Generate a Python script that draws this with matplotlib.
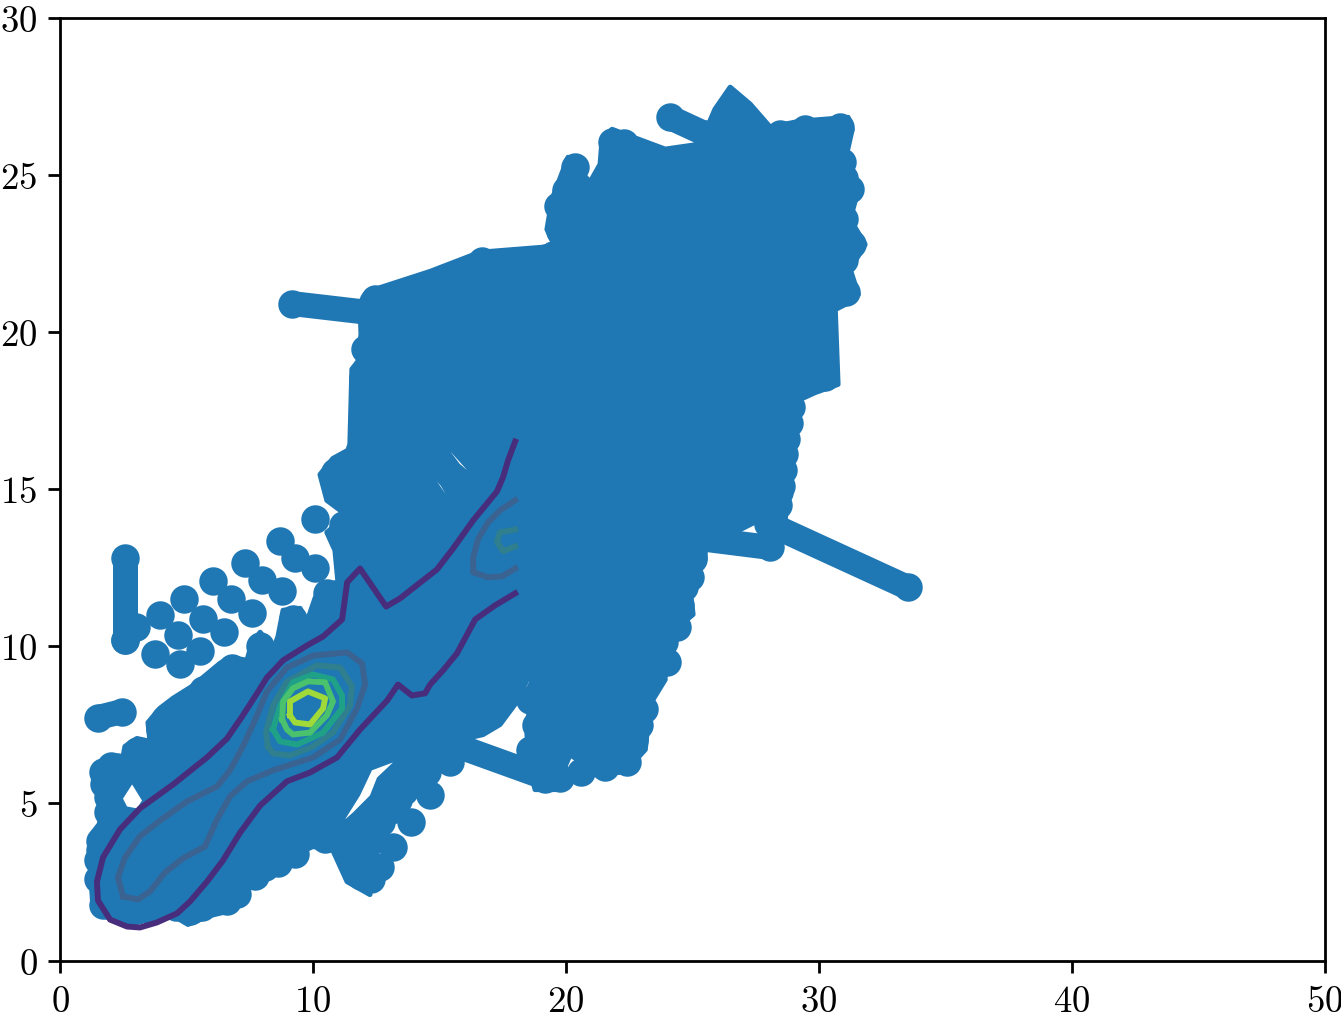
import matplotlib
matplotlib.use('Agg')
import matplotlib.pyplot as plt

# values
body_x = [1.30,1.19,1.30,1.70,1.50,1.30,1.78,2.49,2.57,3.04,3.56,3.48,3.95,4.47,5.22,5.65,6.32,6.72,7.39,7.59,7.91,8.42,8.62,8.82,9.49,9.76,10.08,10.40,10.99,10.87,10.55,11.35,10.55,10.28,10.79,11.38,
          11.46,11.54,11.78,11.90,11.86,12.33,14.63,16.60,19.57,19.25,19.45,20.08,20.95,21.35,21.43,21.82,23.92,25.30,25.89,26.49,27.28,28.07,29.25,31.15,31.31,30.91,31.55,31.23,31.82,31.23,31.55,31.03,30.64,30.75,29.85,29.25,29.05,28.78,28.66,27.67,26.88,25.50,25.50,24.90,25.02,24.31,23.72,23.92,23.32,23.13,22.34,21.35,20.16,19.57,18.78,
          18.58,18.46,18.70,17.98,17.39,16.72,15.02,14.23,13.52,12.97,11.94,12.25,11.35,10.79,10.00,9.21,8.70,8.03,7.59,7.12,6.44,5.93,5.06,4.47,3.83,3.04,1.98,1.38]
body_y = [1.75,3.09,4.07,4.49,5.25,5.92,6.36,6.46,6.81,7.06,6.97,7.57,8.02,8.34,8.72,9.00,9.45,9.64,9.55,10.09,10.44,9.86,10.31,11.14,11.20,10.76,11.52,11.96,12.03,13.05,13.62,14.16,14.64,15.46,15.97,16.23,
          16.42,18.81,19.06,19.92,20.87,21.32,21.92,22.53,22.72,23.26,24.21,25.55,24.76,25.33,26.12,26.44,25.81,25.97,27.08,27.78,27.24,26.51,26.70,26.82,26.44,25.01,24.53,23.58,22.78,21.99,21.19,20.87,20.71,18.33,18.07,17.85,16.58,15.31,13.97,14.03,13.71,13.71,12.76,11.81,11.01,10.53,9.90,8.94,8.15,6.71,6.01,5.92,6.55,5.44,5.44,
          6.08,7.19,9.32,8.15,7.51,7.19,6.87,5.92,5.06,4.49,3.40,2.10,2.51,3.50,3.63,3.34,2.96,2.58,2.64,1.97,1.53,1.43,1.15,1.43,1.37,1.21,1.43,1.65]

dots_x = [3.95,4.90,5.65,4.66,5.53,6.05,6.76,6.48,7.59,7.31,7.99,8.78,8.70,9.29,10.08,10.08,9.21,7.91,10.55,6.80,5.65,4.86,4.15,3.04,2.25,3.95,3.00,2.57,3.75,4.74,
          14.63,13.88,13.16,12.65,12.29,15.42,21.54,22.22,22.61,22.93,23.52,23.88,24.23,24.67,25.02,19.17,19.76,18.58,18.58,18.97,19.29,20.16,
          12.45,13.44,15.02,15.81,16.68,18.18,19.49,19.76,20.36,21.82,30.83,29.45,28.46,31.23,31.30,31.07,30.24,28.66,28.58,28.38,
          10.87,11.07,11.19,11.66,11.98,12.06,12.37,1.70,1.58,1.74,1.90,5.14,6.40,7.12,8.10,8.89,10.47,11.46,13.36,13.91,14.90,
          12.9,13.9,14.4,15.4,16.2,17.2,17.7,18.7,19.2,
          28.9,28.8,28.7,28.6,28.5,28.4,31.0,31.0,31.1,30.9,31.0,30.5,22.3,20.0,19.7,
          24.0,23.2,23.1,22.9,22.7,22.4,24.4,23.6,24.5,24.9,20.6,20.9,19.0,18.8,
          15.0,14.5,13.6,13.1,12.7,12.3,12.0,11.7,11.9,
          9.3,8.6,7.7,7.0,6.6,5.6,4.6,3.6,2.6,1.9,1.5,1.5,1.6,2.0,1.9,1.7,2.0]
dots_y = [10.98,11.49,10.85,10.34,9.86,12.06,11.49,10.44,11.07,12.66,12.12,11.77,13.33,12.82,12.50,14.03,10.85,9.99,11.68,9.32,8.62,8.05,7.67,6.65,6.17,7.35,10.60,10.20,9.74,9.42,
          5.28,4.42,3.60,2.96,2.58,6.33,6.17,6.55,7.80,8.46,9.26,10.12,10.94,11.87,12.76,5.76,5.82,6.71,8.30,8.62,10.60,10.53,
          21.03,21.19,21.60,21.73,22.24,22.24,22.46,23.20,25.23,26.03,26.51,26.44,26.28,24.53,22.78,21.26,18.55,17.20,15.60,14.50,
          15.53,14.99,13.87,15.62,18.49,19.44,20.94,1.78,3.53,5.60,4.74,1.56,2.04,2.58,2.96,3.53,3.85,3.37,5.12,5.76,6.71,
          21.05,21.25,21.4,21.65,21.85,22.1,22.15,22.25,22.35,
          17.6,17.1,16.6,16.1,15.1,14.9,24.9,23.6,23.0,25.4,22.3,26.3,26.0,24.5,24.0,
          9.5,8.8,8.0,7.5,7.0,6.3,10.6,9.9,11.3,12.2,6.0,6.3,7.0,7.5,
          6.7,6.0,5.4,4.8,4.4,3.8,3.3,3.0,2.7,
          3.4,3.1,2.7,2.1,1.9,1.7,1.7,1.6,1.5,1.75,2.6,3.2,3.8,4.4,5.2,6.0,6.2]

# straight runs sticking out of the cloud
tracks_x = [[9.17,14.5],[33.5,28.0],[28.06,24.9],[2.57,2.57],[1.5,2.45],[15.0,19.17],[24.1,25.5]]
tracks_y = [[20.9,20.4],[11.87,13.9],[13.14,13.46],[12.82,10.2],[7.73,7.92],[7.03,5.82],[26.82,26.3]]

# small uncovered gaps
gaps_x = [[2.49,2.85,3.24,3.04,2.65],[11.27,11.86,12.33,13.16,12.53,12.25,11.58],[15.42,15.8,16.09],[14.9,15.25,15.05]]
gaps_y = [[5.15,5.6,5.09,4.84,4.9],[4.49,5.25,6.05,6.3,5.82,5.25,4.71],[16.2,15.8,15.6],[15.24,14.83,15.1]]

level1_x = [17.99,17.71,17.51,17.27,16.88,16.33,15.54,14.90,13.44,12.89,11.86,11.35,11.15,10.40,9.76,8.82,8.18,7.79,7.23,6.60,5.81,4.47,3.16,2.37,1.70,1.46,1.50,1.98,2.65,3.16,3.83,4.63,5.14,5.81,6.44,7.12,7.91,8.97,9.88,10.95,11.86,12.93,13.36,13.91,14.43,14.63,15.14,15.69,16.41,17.20,17.99]
level1_y = [16.51,15.91,15.37,14.92,14.54,14.00,13.11,12.44,11.52,11.26,12.47,12.03,10.85,10.31,10.02,9.55,9.00,8.50,7.80,7.06,6.46,5.60,4.84,4.17,3.28,2.51,1.91,1.30,1.08,1.05,1.21,1.50,1.88,2.51,3.18,4.07,4.93,5.70,5.98,6.46,7.35,8.27,8.78,8.43,8.50,8.78,9.23,9.77,10.85,11.30,11.68]
level2_x = [2.49,2.29,2.57,3.16,3.95,5.02,6.21,6.72,7.23,7.79,8.18,8.97,10.00,11.35,11.94,12.06,11.74,11.07,10.00,8.42,7.39,6.72,6.21,5.73,4.86,4.15,3.56,3.08,2.49]
level2_y = [2.04,2.64,3.28,3.95,4.45,5.06,5.54,6.05,6.81,7.80,8.56,9.32,9.70,9.80,9.45,8.78,8.02,7.03,6.46,6.05,5.70,5.22,4.49,3.63,3.25,2.80,2.20,1.94,2.04]
level2b_x = [17.99,17.39,16.92,16.52,16.33,16.33,16.92,17.47,17.99]
level2b_y = [14.64,14.32,13.94,13.40,12.82,12.35,12.19,12.22,12.47]
level3_x = [8.22,8.14,8.42,8.97,10.16,11.07,11.54,11.46,10.79,10.00,9.09,8.42,8.22]
level3_y = [6.81,7.25,8.11,8.87,9.39,9.32,8.72,8.11,7.25,6.81,6.52,6.59,6.81]
level3b_x = [17.99,17.39,17.27,17.51,17.99]
level3b_y = [13.71,13.62,13.33,13.02,13.17]
level4_x = [8.42,8.70,9.21,10.00,10.79,11.15,11.15,10.40,9.37,8.70,8.42]
level4_y = [7.35,8.11,8.85,9.10,8.94,8.43,8.02,7.25,6.87,6.97,7.35]
level5_x = [8.78,8.82,9.21,9.80,10.48,10.79,10.55,9.88,9.21,8.97,8.78]
level5_y = [7.67,8.24,8.66,8.88,8.85,8.24,7.80,7.25,7.19,7.35,7.67]
level6_x = [9.09,9.09,9.80,10.48,10.40,9.88,9.29,9.09]
level6_y = [7.80,8.24,8.56,8.34,8.02,7.51,7.57,7.80]

xticks = [0,10,20,30,40,50]
yticks = [0,5,10,15,20,25,30]

plt.rcParams['font.family'] = 'cmr10'
plt.rcParams['axes.formatter.use_mathtext'] = True
plt.rcParams['font.size'] = 10.6

blue = '#1f77b4'
fig,ax = plt.subplots(figsize=(1341/250,1015/250),dpi=250)
fig.subplots_adjust(left=60/1341,right=1325/1341,top=1-18.5/1015,bottom=1-961.5/1015)

ax.fill(body_x,body_y,color=blue,lw=1.5,joinstyle='round')
for tx,ty in zip(tracks_x,tracks_y):
    ax.plot(tx,ty,color=blue,lw=7.2,marker='o',ms=8.2,mew=0,solid_capstyle='round')
ax.plot(dots_x,dots_y,ls='none',marker='o',color=blue,ms=8.2,mew=0)
for gx,gy in zip(gaps_x,gaps_y):
    ax.fill(gx,gy,color='white',lw=0)

ax.plot(level1_x,level1_y,color='#472d7b',lw=1.7)
ax.plot(level2_x,level2_y,color='#3b6392',lw=1.7)
ax.plot(level2b_x,level2b_y,color='#3b6392',lw=1.7)
ax.plot(level3_x,level3_y,color='#2f7f8e',lw=1.7)
ax.plot(level3b_x,level3b_y,color='#2f7f8e',lw=1.7)
ax.plot(level4_x,level4_y,color='#1fa187',lw=1.7)
ax.plot(level5_x,level5_y,color='#4ac16d',lw=1.7)
ax.plot(level6_x,level6_y,color='#a0da39',lw=1.7)

ax.set_xlim(0,50)
ax.set_ylim(0,30)
ax.set_xticks(xticks)
ax.set_yticks(yticks)
ax.tick_params(axis='x',pad=3.5)
ax.tick_params(axis='y',pad=3)

fig.savefig('out.png',dpi=250)
